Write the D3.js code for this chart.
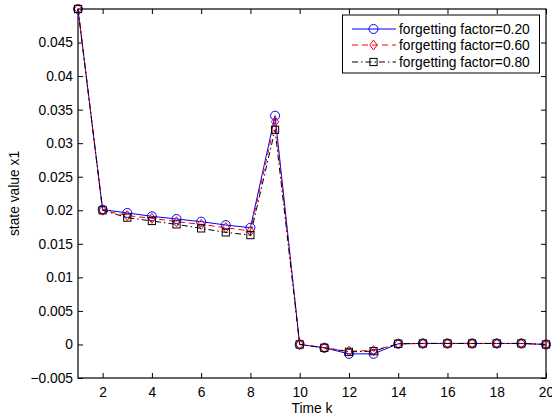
<!DOCTYPE html>
<html>
<head>
<meta charset="utf-8">
<script src="https://cdn.jsdelivr.net/npm/d3@7"></script>
<style>
  html, body { margin: 0; padding: 0; background: #fff; }
  svg { display: block; font-family: "Liberation Sans", Arial, Helvetica, sans-serif; }
</style>
</head>
<body>
<svg id="chart" width="552" height="415"></svg>
<script>
// Time steps
const steps = [1, 2, 3, 4, 5, 6, 7, 8, 9, 10, 11, 12, 13, 14, 15, 16, 17, 18, 19, 20];

// State estimates x1 for each forgetting factor
const ff020 = [0.0500, 0.0201, 0.0196, 0.0191, 0.0187, 0.0183, 0.0178, 0.0174, 0.0341, 0.0000,
               -0.0005, -0.0014, -0.0014, 0.0001, 0.00015, 0.00015, 0.00015, 0.00015, 0.00015, 0.0000];
const ff060 = [0.0500, 0.0200, 0.0192, 0.0188, 0.0183, 0.0179, 0.0174, 0.0169, 0.0332, 0.0000,
               -0.0005, -0.0010, -0.0009, 0.0001, 0.00015, 0.00015, 0.00015, 0.00015, 0.00015, 0.0000];
const ff080 = [0.0500, 0.0200, 0.0189, 0.0184, 0.0179, 0.0173, 0.0167, 0.0163, 0.0320, 0.0000,
               -0.0005, -0.0011, -0.0010, 0.0001, 0.00015, 0.00015, 0.00015, 0.00015, 0.00015, 0.0000];

const seriesNames = ["forgetting factor=0.20", "forgetting factor=0.60", "forgetting factor=0.80"];

// Axis ticks
const xTicks = [2, 4, 6, 8, 10, 12, 14, 16, 18, 20];
const yTicks = [-0.005, 0, 0.005, 0.01, 0.015, 0.02, 0.025, 0.03, 0.035, 0.04, 0.045];
const yTickLabels = ["\u22120.005", "0", "0.005", "0.01", "0.015", "0.02", "0.025", "0.03", "0.035", "0.04", "0.045"];

const styles = [
  { color: "#0000ff", dash: null, marker: "circle" },
  { color: "#ff0000", dash: "6,4", marker: "diamond" },
  { color: "#000000", dash: "6,3,1.5,3", marker: "square" }
];
const data = [ff020, ff060, ff080];

const svg = d3.select("#chart");
const L = 78, R = 546, T = 9, B = 378;
const fs = 13.8;

const x = d3.scaleLinear().domain([1, 20]).range([L, R]);
const y = d3.scaleLinear().domain([-0.005, 0.05]).range([B, T]);

// axes with inward ticks on all four sides
const tickLen = 5;
const gx = svg.append("g").attr("transform", `translate(0,${B})`)
  .call(d3.axisBottom(x).tickValues(xTicks).tickSizeInner(-tickLen).tickSizeOuter(0).tickPadding(9));
const gxTop = svg.append("g").attr("transform", `translate(0,${T})`)
  .call(d3.axisTop(x).tickValues(xTicks).tickSizeInner(-tickLen).tickSizeOuter(0).tickFormat(""));
const gy = svg.append("g").attr("transform", `translate(${L},0)`)
  .call(d3.axisLeft(y).tickValues(yTicks).tickSizeInner(-tickLen).tickSizeOuter(0).tickPadding(5)
    .tickFormat((d, i) => yTickLabels[i]));
const gyR = svg.append("g").attr("transform", `translate(${R},0)`)
  .call(d3.axisRight(y).tickValues(yTicks).tickSizeInner(-tickLen).tickSizeOuter(0).tickFormat(""));

[gx, gxTop, gy, gyR].forEach(g => {
  g.select(".domain").remove();
  g.selectAll("line").attr("stroke", "#000").attr("stroke-width", 1);
  g.selectAll("text").attr("fill", "#000").style("font-size", fs + "px").style("font-family", "inherit");
});

// frame
svg.append("rect").attr("x", L).attr("y", T).attr("width", R - L).attr("height", B - T)
  .attr("fill", "none").attr("stroke", "#000").attr("stroke-width", 1.2);

// axis titles
svg.append("text").attr("x", (L + R) / 2).attr("y", 412.5).attr("text-anchor", "middle")
  .style("font-size", fs + "px").text("Time k");
svg.append("text").attr("transform", `translate(19,${(T + B) / 2}) rotate(-90)`)
  .attr("text-anchor", "middle").style("font-size", fs + "px").text("state value x1");

function drawMarker(g, type, cx, cy, color) {
  if (type === "circle") {
    g.append("circle").attr("cx", cx).attr("cy", cy).attr("r", 4.5)
      .attr("fill", "none").attr("stroke", color).attr("stroke-width", 1);
  } else if (type === "diamond") {
    const s = 5;
    g.append("path").attr("d", `M${cx},${cy - s}L${cx + s * 0.75},${cy}L${cx},${cy + s}L${cx - s * 0.75},${cy}Z`)
      .attr("fill", "none").attr("stroke", color).attr("stroke-width", 1);
  } else {
    const s = 3.6;
    g.append("rect").attr("x", cx - s).attr("y", cy - s).attr("width", 2 * s).attr("height", 2 * s)
      .attr("fill", "none").attr("stroke", color).attr("stroke-width", 1);
  }
}

const line = d3.line().x((d, i) => x(steps[i])).y(d => y(d));
const plot = svg.append("g");
data.forEach((vals, si) => {
  const st = styles[si];
  const g = plot.append("g");
  g.append("path").datum(vals).attr("d", line).attr("fill", "none")
    .attr("stroke", st.color).attr("stroke-width", 1)
    .attr("stroke-dasharray", st.dash);
  vals.forEach((v, i) => drawMarker(g, st.marker, x(steps[i]), y(v), st.color));
});

// legend
const lg = svg.append("g");
lg.append("rect").attr("x", 342.5).attr("y", 15).attr("width", 197).attr("height", 58)
  .attr("fill", "#fff").attr("stroke", "#000").attr("stroke-width", 1);
const rowsY = [29, 45, 62];
seriesNames.forEach((name, i) => {
  const st = styles[i];
  lg.append("line").attr("x1", 352).attr("x2", 396).attr("y1", rowsY[i]).attr("y2", rowsY[i])
    .attr("stroke", st.color).attr("stroke-width", 1).attr("stroke-dasharray", st.dash);
  drawMarker(lg, st.marker, 373.5, rowsY[i], st.color);
  lg.append("text").attr("x", 399).attr("y", rowsY[i] + 4.8).style("font-size", fs + "px").text(name);
});
</script>
</body>
</html>
